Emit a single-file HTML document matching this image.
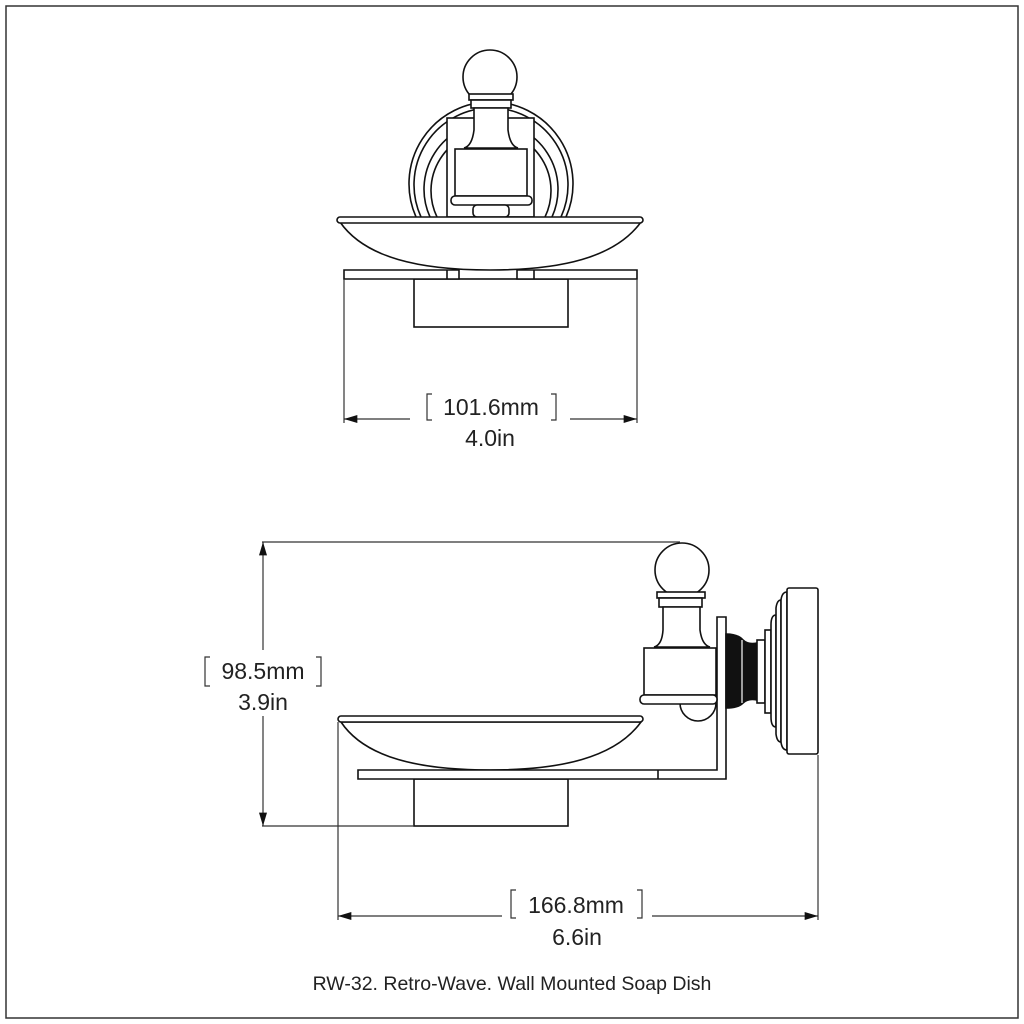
<!DOCTYPE html>
<html><head><style>body{margin:0;background:#fff}svg{display:block}text{font-family:"Liberation Sans",Arial,sans-serif;fill:#222}</style></head><body>
<svg width="1024" height="1024" viewBox="0 0 1024 1024" xmlns="http://www.w3.org/2000/svg">
<defs><marker id="a" viewBox="0 0 10 6" refX="10" refY="3" markerWidth="16" markerHeight="8" orient="auto" markerUnits="userSpaceOnUse"><path d="M0,0L10,3L0,6z" fill="#111"/></marker></defs>
<rect x="6" y="6" width="1012" height="1012" fill="none" stroke="#333" stroke-width="1.5"/>
<g fill="#fff" stroke="#111" stroke-width="1.6">
<!-- TOP VIEW -->
<path d="M416,217 A82,82 0 1 1 566,217" fill="none"/>
<path d="M421,217 A77,77 0 1 1 561,217" fill="none"/>
<path d="M430,217 A67,67 0 1 1 552,217" fill="none"/>
<path d="M437,217 A60,60 0 1 1 545,217" fill="none"/>
<rect x="447" y="118" width="87" height="99"/>
<circle cx="490" cy="77" r="27"/>
<rect x="469" y="94" width="44" height="6"/>
<rect x="471" y="100" width="40" height="8"/>
<path d="M474,108 H508 V130 Q510,146 518,148 H464 Q472,146 474,130Z"/>
<rect x="455" y="149" width="72" height="47"/>
<rect x="451" y="196" width="81" height="9" rx="4"/>
<rect x="473" y="205" width="36" height="12" rx="4"/>
<path d="M340,222 C365,258 420,270 490,270 C560,270 615,258 641,222Z"/>
<rect x="337" y="217" width="306" height="6" rx="3"/>
<rect x="414" y="279" width="154" height="48"/>
<path d="M344,270 H459 V279 H344Z M517,270 H637 V279 H517Z"/>
<path d="M447,270 V279 M534,270 V279" fill="none"/>
<!-- SIDE VIEW -->
<path d="M341,722 C365,758 420,770 490,770 C560,770 615,758 641,722Z"/>
<rect x="338" y="716" width="305" height="6" rx="3"/>
<rect x="414" y="779" width="154" height="47"/>
<path d="M358,770 H717 V617 H726 V779 H358Z"/>
<path d="M658,770 V779" fill="none"/>
<circle cx="682" cy="570" r="27"/>
<rect x="657" y="592" width="48" height="6"/>
<rect x="659" y="598" width="43" height="9"/>
<path d="M663,607 H700 V630 Q702,645 710,647 H654 Q662,645 663,630Z"/>
<path d="M680,703 a18,18 0 0 0 36,0" fill="#fff"/>
<rect x="644" y="648" width="72" height="47"/>
<rect x="640" y="695" width="77" height="9" rx="4"/>
<path d="M726,634 Q738,634 743,640 Q748,645 757,643 V700 Q748,698 743,703 Q738,708 726,708Z" fill="#111"/>
<path d="M742,640 V703" stroke="#fff" stroke-width="1.2"/>
<rect x="757" y="640" width="8" height="63"/>
<rect x="765" y="630" width="6" height="83"/>
<path d="M771,625 Q771,615 776,615 V727 Q771,727 771,717Z"/>
<path d="M776,608 Q777,600 781,600 V742 Q777,742 776,734Z"/>
<path d="M781,600 Q782,592 787,592 V750 Q782,750 781,742Z"/>
<rect x="787" y="588" width="31" height="166" rx="2"/>
</g>
<g stroke="#333" stroke-width="1.2" fill="none">
<path d="M344,279 V423 M637,279 V423"/>
<path d="M410,419 H344" marker-end="url(#a)"/>
<path d="M570,419 H637" marker-end="url(#a)"/>
<path d="M262,542 H680 M262,826 H414"/>
<path d="M263,650 V542" marker-end="url(#a)"/>
<path d="M263,716 V826" marker-end="url(#a)"/>
<path d="M338,722 V920 M818,755 V920"/>
<path d="M502,916 H338" marker-end="url(#a)"/>
<path d="M652,916 H818" marker-end="url(#a)"/>
<path d="M432,394 h-5 v26 h5 M551,394 h5 v26 h-5"/>
<path d="M210,657 h-5 v29 h5 M316,657 h5 v29 h-5"/>
<path d="M516,890 h-5 v28 h5 M637,890 h5 v28 h-5"/>
</g>
<g font-size="23" text-anchor="middle">
<text x="491" y="415">101.6mm</text><text x="490" y="446">4.0in</text>
<text x="263" y="679">98.5mm</text><text x="263" y="710">3.9in</text>
<text x="576" y="913">166.8mm</text><text x="577" y="945">6.6in</text>
</g>
<text x="512" y="990" font-size="19.5" text-anchor="middle">RW-32. Retro-Wave. Wall Mounted Soap Dish</text>
</svg>
</body></html>
